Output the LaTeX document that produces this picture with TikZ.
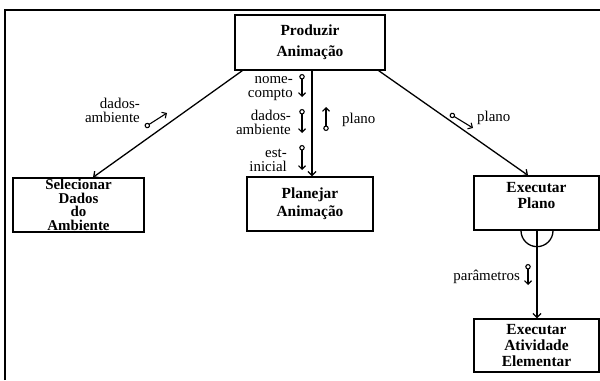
\documentclass[tikz,border=0pt]{standalone}
\usepackage{fontspec}
\setmainfont{Liberation Serif}
\usetikzlibrary{arrows.meta}
\newcommand\mybf[1]{\bfseries\fontsize{15.5}{#1}\selectfont}
\newcommand\mylb[1]{\fontsize{15}{#1}\selectfont}
\begin{document}
\begin{tikzpicture}[x=1bp,y=1bp,
  box/.style={draw, line width=1.3bp, inner sep=0pt, align=center},
  lbl/.style={inner sep=0pt, align=right, anchor=east, font=\mylb{14}},
  conn/.style={line width=1.3bp, -{Straight Barb[length=4bp,width=8bp]}},
  flow/.style={line width=1.1bp, {Circle[open,length=5.5bp,width=5.5bp]}-{Straight Barb[length=3.5bp,width=7bp]}},
]
\useasboundingbox (0,0) rectangle (600,380);
\draw[line width=1.7bp] (5,0) -- (5,370) -- (600,370);

% boxes
\node[box, minimum width=150bp, minimum height=55bp, font=\mybf{21}] (prod) at (310,337.5) {Produzir\\Animação};
\node[box, minimum width=131bp, minimum height=54bp, font=\bfseries\fontsize{15}{13.8}\selectfont] (sel) at (78.5,175) {Selecionar\\Dados\\do\\Ambiente};
\node[box, minimum width=126bp, minimum height=54bp, font=\mybf{18}] (plan) at (310,176) {Planejar\\Animação};
\node[box, minimum width=125bp, minimum height=54bp,
      label={[name=execpt, align=center, font=\mybf{17}, yshift=7.5bp]center:Executar\\Plano}] (execp) at (536.5,177) {};
\node[box, minimum width=125bp, minimum height=53bp, font=\mybf{16.5}] (ativ) at (536.5,34.5) {Executar\\Atividade\\Elementar};

% connectors
\draw[conn] ([xshift=8bp]prod.south west) -- ([xshift=14.5bp]sel.north);
\draw[conn] ([xshift=2bp]prod.south) -- ([xshift=2bp]plan.north);
\draw[conn] ([xshift=-7bp]prod.south east) -- ([xshift=-8.5bp]execp.north);
\draw[conn] ([xshift=0.5bp]execp.south) -- ([xshift=0.5bp]ativ.north);
\draw[line width=1.3bp] ([xshift=-15.5bp]execp.south) arc[start angle=180, end angle=360, radius=16bp];

% data flow labels
\node[lbl] (l1) at (140,269.5) {dados-\\ambiente};
\coordinate (f1a) at (145,253);
\coordinate (f1b) at (167,267);
\draw[flow] (f1a) -- (f1b);

\node[lbl] (l2) at (293,291.5) {nome-\\compto};
\coordinate (f2a) at (302,306);
\coordinate (f2b) at (302,283);
\draw[flow] (f2a) -- (f2b);

\node[lbl] (l3) at (291,257.5) {dados-\\ambiente};
\coordinate (f3a) at (302,271);
\coordinate (f3b) at (302,247);
\draw[flow] (f3a) -- (f3b);

\node[lbl] (l4) at (287,220) {est-\\inicial};
\coordinate (f4a) at (302,235);
\coordinate (f4b) at (302,210);
\draw[flow] (f4a) -- (f4b);

\node[lbl, anchor=west] (l5) at (342,260) {plano};
\coordinate (f5a) at (326,249);
\coordinate (f5b) at (326,273);
\draw[flow] (f5a) -- (f5b);

\node[lbl, anchor=west] (l6) at (477,262) {plano};
\coordinate (f6a) at (450,266);
\coordinate (f6b) at (473,252);
\draw[flow] (f6a) -- (f6b);

\node[lbl] (l7) at (520,103) {parâmetros};
\coordinate (f7a) at (528,116);
\coordinate (f7b) at (528,95);
\draw[flow] (f7a) -- (f7b);
\end{tikzpicture}
\end{document}
